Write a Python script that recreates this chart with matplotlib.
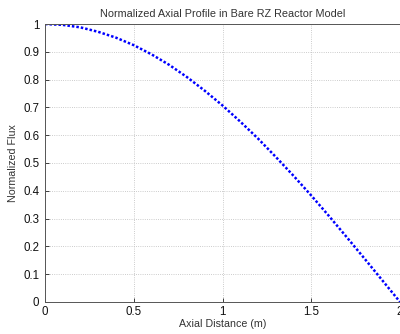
import matplotlib
matplotlib.use("Agg")
import matplotlib.pyplot as plt

# axial positions (m) and normalized flux read along the profile
z_pos = [0.0, 0.1, 0.2, 0.3, 0.4, 0.5, 0.6, 0.7, 0.8, 0.9, 1.0,
         1.1, 1.2, 1.3, 1.4, 1.5, 1.6, 1.7, 1.8, 1.9, 2.0]
flux = [1.000, 0.997, 0.988, 0.972, 0.951, 0.924, 0.891, 0.853, 0.809, 0.760, 0.707,
        0.649, 0.588, 0.522, 0.454, 0.383, 0.309, 0.233, 0.156, 0.078, 0.000]
x_ticks = [0, 0.5, 1, 1.5, 2]
y_ticks = [0, 0.1, 0.2, 0.3, 0.4, 0.5, 0.6, 0.7, 0.8, 0.9, 1]

plt.rcParams['font.family'] = ['Liberation Sans', 'DejaVu Sans']
plt.rcParams['font.size'] = 7.5

fig = plt.figure(figsize=(4.0, 3.34), dpi=100)
ax = fig.add_axes([0.1125, 0.096, 0.8875, 0.832])

ax.plot(z_pos, flux, color='blue', linestyle=(0, (1, 0.8)), linewidth=1.8)

ax.set_xlim(0, 2)
ax.set_ylim(0, 1)
ax.set_xticks(x_ticks)
ax.set_xticklabels([f"{t:g}" for t in x_ticks])
ax.set_yticks(y_ticks)
ax.set_yticklabels([f"{t:g}" for t in y_ticks])
ax.tick_params(direction='in', length=3, width=0.6, colors='#222222',
               labelsize=8.3, labelcolor='#111111')
ax.tick_params(axis='x', pad=3)
ax.tick_params(axis='y', pad=4)
ax.grid(True, linestyle=':', linewidth=0.6, color='#bbbbbb')
for sp in ax.spines.values():
    sp.set_linewidth(0.7)
    sp.set_color('#555555')

ax.set_title("Normalized Axial Profile in Bare RZ Reactor Model", color='#333333',
             fontsize=7.8, pad=5)
ax.set_xlabel("Axial Distance (m)", color='#333333', fontsize=7.7, labelpad=1)
ax.set_ylabel("Normalized Flux", color='#333333', fontsize=7.7, labelpad=4)

fig.savefig("out.png", dpi=100)
